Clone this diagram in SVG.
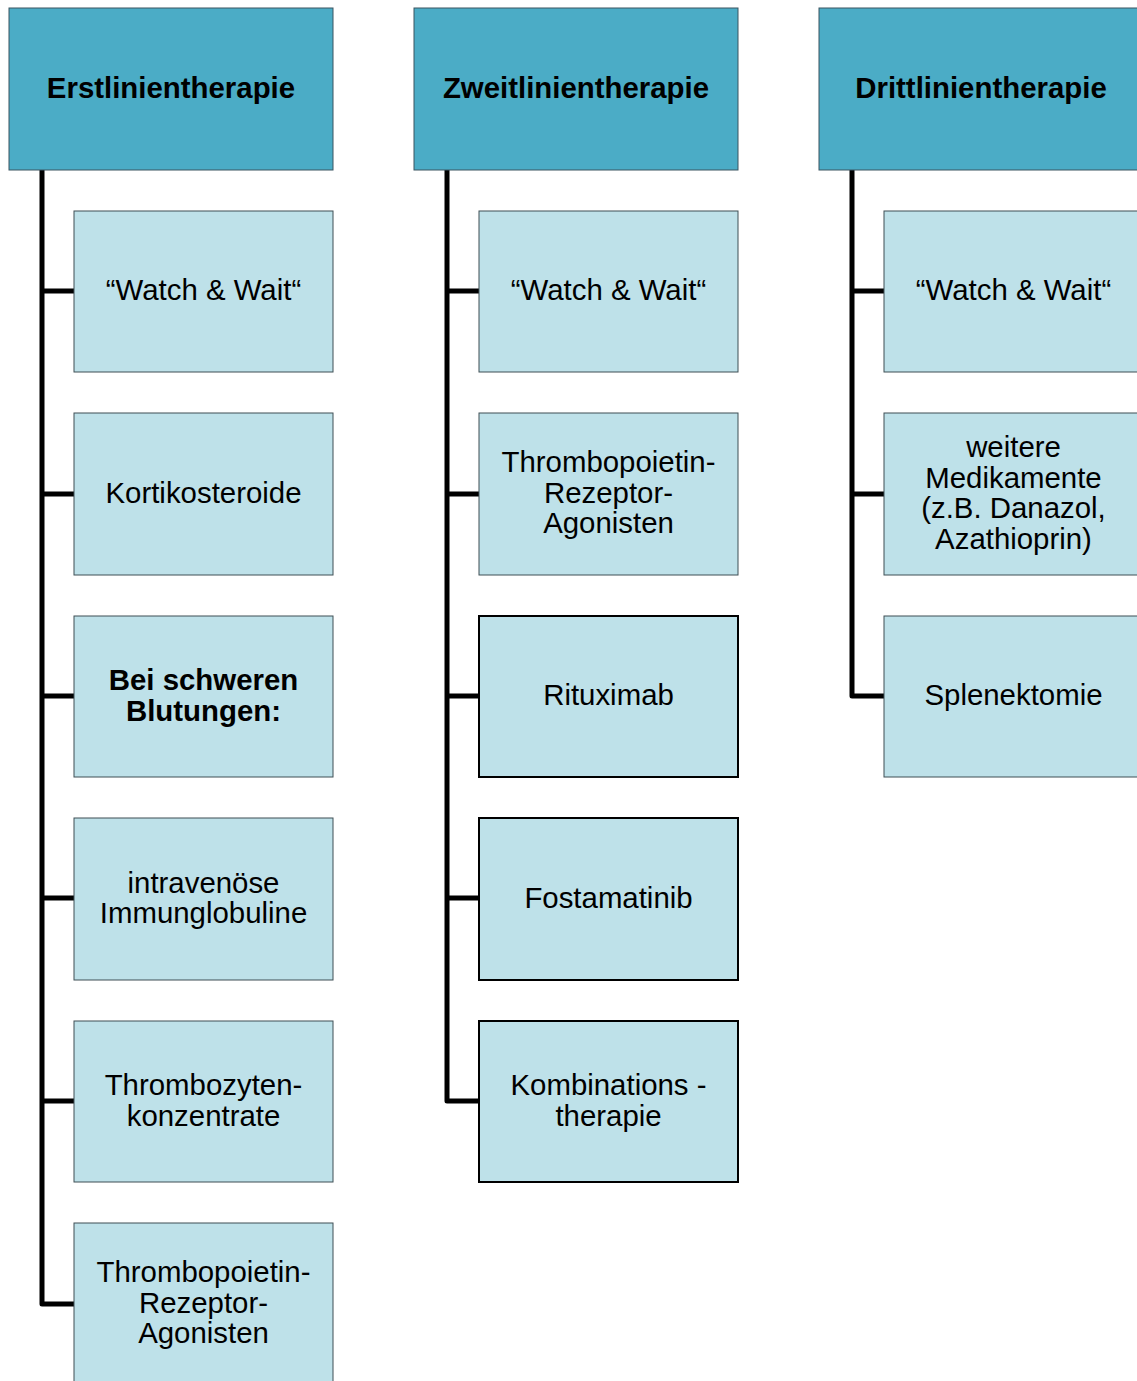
<svg xmlns="http://www.w3.org/2000/svg" width="1137" height="1381" viewBox="0 0 1137 1381">
<style>
.hdr{fill:#4BACC6;stroke:#3a5560;stroke-width:1}
.box{fill:#BEE1E9;stroke:#3f4f55;stroke-width:1}
.boxb{fill:#BEE1E9;stroke:#000;stroke-width:2}
.ht{font-family:"Liberation Sans",Arial,sans-serif;font-weight:bold;font-size:29.4px;text-anchor:middle;fill:#000}
.t{font-family:"Liberation Sans",Arial,sans-serif;font-size:29.4px;text-anchor:middle;fill:#000}
.tb{font-family:"Liberation Sans",Arial,sans-serif;font-size:29.4px;font-weight:bold;text-anchor:middle;fill:#000}
.c{fill:none;stroke:#000;stroke-width:5;stroke-linejoin:round}
</style>
<rect width="1137" height="1381" fill="#fff"/>
<g id="connectors">
<path class="c" d="M42 170 V1304 H74"/>
<path class="c" d="M42 291 H74 M42 494 H74 M42 696 H74 M42 898 H74 M42 1101 H74"/>
<path class="c" d="M447 170 V1101 H479"/>
<path class="c" d="M447 291 H479 M447 494 H479 M447 696 H479 M447 898 H479"/>
<path class="c" d="M852 170 V696 H884"/>
<path class="c" d="M852 291 H884 M852 494 H884"/>
</g>
<g id="h1"><rect class="hdr" x="9" y="8" width="324" height="162"/><text class="ht" x="171" y="98">Erstlinientherapie</text></g>
<g id="h2"><rect class="hdr" x="414" y="8" width="324" height="162"/><text class="ht" x="576" y="98">Zweitlinientherapie</text></g>
<g id="h3"><rect class="hdr" x="819" y="8" width="324" height="162"/><text class="ht" x="981" y="98">Drittlinientherapie</text></g>

<g id="c1n1"><rect class="box" x="74" y="211" width="259" height="161"/><text class="t" x="203.5" y="300">“Watch &amp; Wait“</text></g>
<g id="c1n2"><rect class="box" x="74" y="413" width="259" height="162"/><text class="t" x="203.5" y="503">Kortikosteroide</text></g>
<g id="c1n3"><rect class="box" x="74" y="616" width="259" height="161"/><text class="tb" x="203.5" y="690">Bei schweren</text><text class="tb" x="203.5" y="721">Blutungen:</text></g>
<g id="c1n4"><rect class="box" x="74" y="818" width="259" height="162"/><text class="t" x="203.5" y="893">intravenöse</text><text class="t" x="203.5" y="923">Immunglobuline</text></g>
<g id="c1n5"><rect class="box" x="74" y="1021" width="259" height="161"/><text class="t" x="203.5" y="1095">Thrombozyten-</text><text class="t" x="203.5" y="1126">konzentrate</text></g>
<g id="c1n6"><rect class="box" x="74" y="1223" width="259" height="162"/><text class="t" x="203.5" y="1282">Thrombopoietin-</text><text class="t" x="203.5" y="1313">Rezeptor-</text><text class="t" x="203.5" y="1343">Agonisten</text></g>

<g id="c2n1"><rect class="box" x="479" y="211" width="259" height="161"/><text class="t" x="608.5" y="300">“Watch &amp; Wait“</text></g>
<g id="c2n2"><rect class="box" x="479" y="413" width="259" height="162"/><text class="t" x="608.5" y="472">Thrombopoietin-</text><text class="t" x="608.5" y="503">Rezeptor-</text><text class="t" x="608.5" y="533">Agonisten</text></g>
<g id="c2n3"><rect class="boxb" x="479" y="616" width="259" height="161"/><text class="t" x="608.5" y="705">Rituximab</text></g>
<g id="c2n4"><rect class="boxb" x="479" y="818" width="259" height="162"/><text class="t" x="608.5" y="908">Fostamatinib</text></g>
<g id="c2n5"><rect class="boxb" x="479" y="1021" width="259" height="161"/><text class="t" x="608.5" y="1095">Kombinations -</text><text class="t" x="608.5" y="1126">therapie</text></g>

<g id="c3n1"><rect class="box" x="884" y="211" width="259" height="161"/><text class="t" x="1013.5" y="300">“Watch &amp; Wait“</text></g>
<g id="c3n2"><rect class="box" x="884" y="413" width="259" height="162"/><text class="t" x="1013.5" y="457">weitere</text><text class="t" x="1013.5" y="488">Medikamente</text><text class="t" x="1013.5" y="518">(z.B. Danazol,</text><text class="t" x="1013.5" y="549">Azathioprin)</text></g>
<g id="c3n3"><rect class="box" x="884" y="616" width="259" height="161"/><text class="t" x="1013.5" y="705">Splenektomie</text></g>
</svg>
